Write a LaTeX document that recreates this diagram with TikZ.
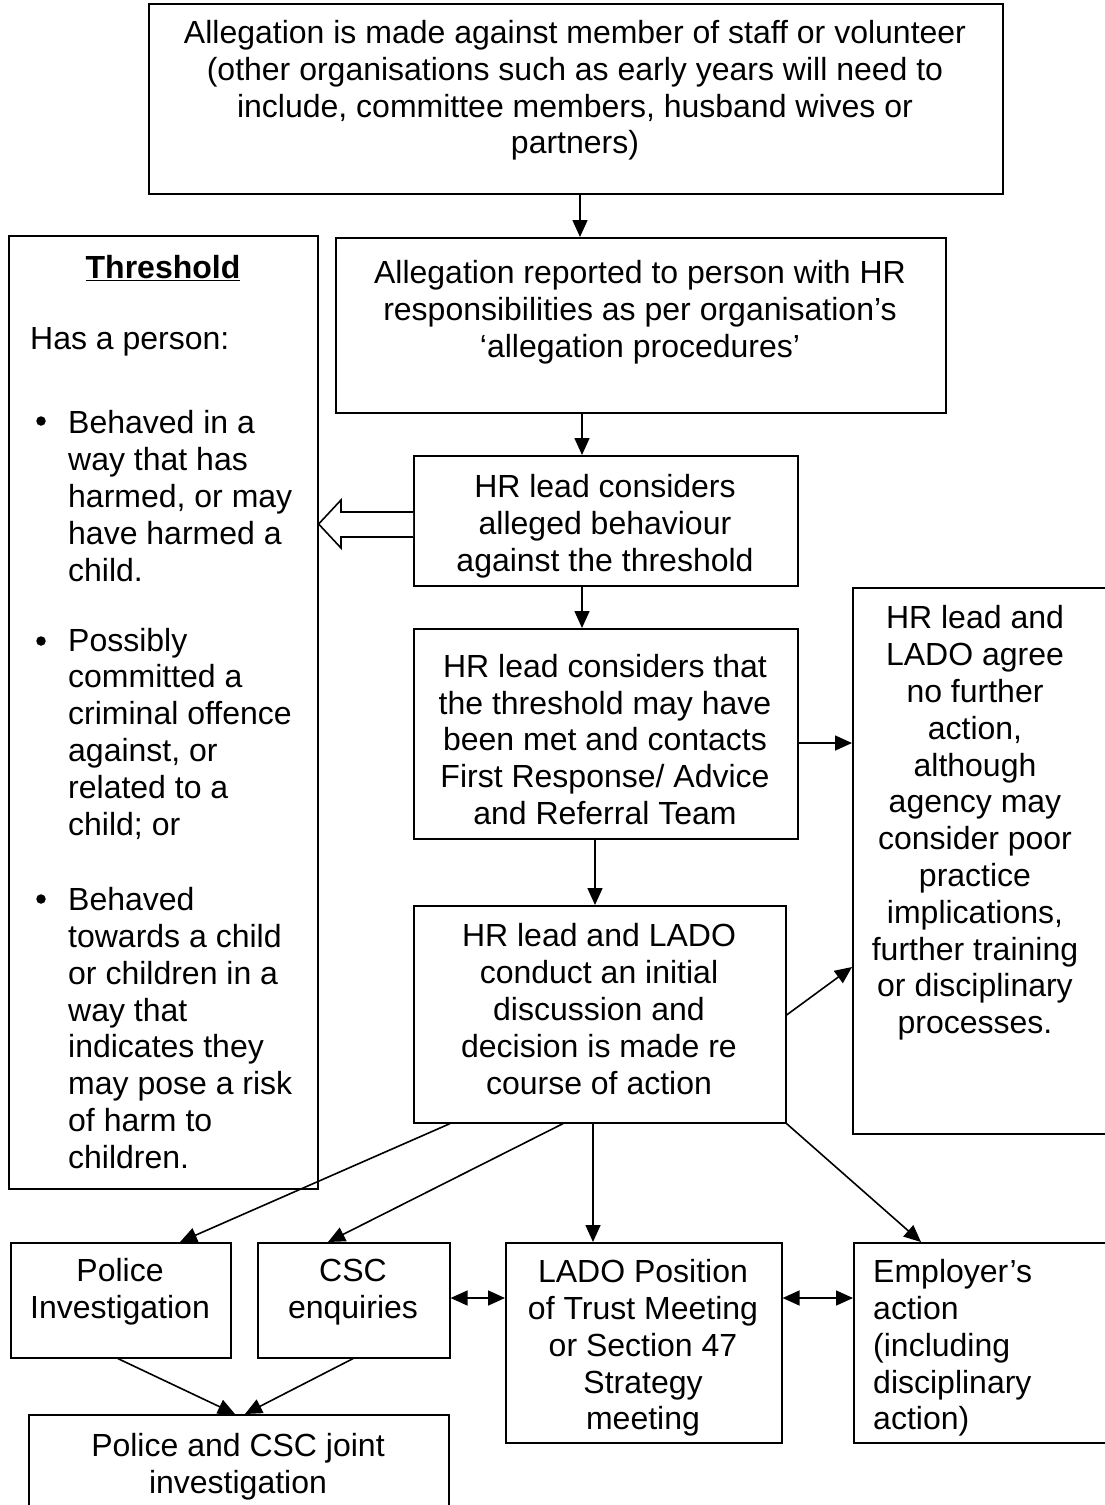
\documentclass[tikz,border=0pt]{standalone}
\usepackage{fontspec}
\setmainfont{Liberation Sans}
\usetikzlibrary{arrows.meta,calc}
\begin{document}
\begin{tikzpicture}[x=1pt,y=-1pt,
  box/.style={draw, line width=1.6pt, anchor=north west, inner sep=0pt},
  txt/.style={align=center, inner sep=0pt, font=\fontsize{32}{36.8}\selectfont},
  ltxt/.style={align=left, inner sep=0pt, anchor=west, font=\fontsize{32}{36.8}\selectfont},
  arr/.style={line width=1.6pt, -{Triangle[length=17pt,width=15pt]}},
  darr/.style={line width=1.6pt, {Triangle[length=17pt,width=15pt]}-{Triangle[length=17pt,width=15pt]}},
  ln/.style={line width=1.6pt},
  dot/.style={circle, fill, inner sep=0pt, minimum size=9.5pt}
]
\useasboundingbox (0,0) rectangle (1105,1505);
\clip (0,0) rectangle (1105,1505);

% boxes
\node[box, minimum width=854pt, minimum height=190pt] (top) at (148,3) {};
\node[box, minimum width=610pt, minimum height=175pt] (hr) at (335,237) {};
\node[box, minimum width=384pt, minimum height=130pt] (cons) at (413,455) {};
\node[box, minimum width=384pt, minimum height=210pt] (thr) at (413,628) {};
\node[box, minimum width=372pt, minimum height=217pt] (disc) at (413,905) {};
\node[box, minimum width=270pt, minimum height=546pt] (rgt) at (852,587) {};
\node[box, minimum width=309pt, minimum height=953pt] (thresh) at (8,235) {};
\node[box, minimum width=220pt, minimum height=115pt] (pol) at (10,1242) {};
\node[box, minimum width=192pt, minimum height=115pt] (csc) at (257,1242) {};
\node[box, minimum width=276pt, minimum height=200pt] (lado) at (505,1242) {};
\node[box, minimum width=270pt, minimum height=200pt] (emp) at (853,1242) {};
\node[box, minimum width=420pt, minimum height=110pt] (joint) at (28,1414) {};

% texts
\node[txt] (ttop) at (575,90.5) {Allegation is made against member of staff or volunteer\\(other organisations such as early years will need to\\include, committee members, husband wives or\\partners)};
\node[txt] (thr1) at (640,312) {Allegation reported to person with HR\\responsibilities as per organisation’s\\‘allegation procedures’};
\node[txt] (tcons) at (605,526) {HR lead considers\\alleged behaviour\\against the threshold};
\node[txt] (tthr) at (605,739.5) {HR lead considers that\\the threshold may have\\been met and contacts\\First Response/ Advice\\and Referral Team};
\node[txt] (tdisc) at (599,1009) {HR lead and LADO\\conduct an initial\\discussion and\\decision is made re\\course of action};
\node[txt] (trgt) at (975,823) {HR lead and\\LADO agree\\no further\\action,\\although\\agency may\\consider poor\\practice\\implications,\\further training\\or disciplinary\\processes.};
\node[txt] (tpol) at (120,1292) {Police\\Investigation};
\node[txt] (tcsc) at (353,1292) {CSC\\enquiries};
\node[txt] (tlado) at (643,1348) {LADO Position\\of Trust Meeting\\or Section 47\\Strategy\\meeting};
\node[ltxt] (temp) at (873,1348) {Employer’s\\action\\(including\\disciplinary\\action)};
\node[txt] (tjoint) at (238,1467) {Police and CSC joint\\investigation};

\node[txt] (tth) at (163,268) {\textbf{\underline{Threshold}}};
\node[ltxt] (thas) at (30,342) {Has a person:};
\node[dot] (b1) at (41,421) {};
\node[dot] (b2) at (41,641) {};
\node[dot] (b3) at (41,899) {};
\node[ltxt] (tb1) at (68,496) {Behaved in a\\way that has\\harmed, or may\\have harmed a\\child.};
\node[ltxt] (tb2) at (68,733.5) {Possibly\\committed a\\criminal offence\\against, or\\related to a\\child; or};
\node[ltxt] (tb3) at (68,1028) {Behaved\\towards a child\\or children in a\\way that\\indicates they\\may pose a risk\\of harm to\\children.};

% connectors
\draw[arr] ($(top.south west)+(432,0)$) -- ($(hr.north west)+(245,0)$);
\draw[arr] ($(hr.south west)+(247,0)$) -- ($(cons.north west)+(169,0)$);
\draw[arr] ($(cons.south west)+(169,0)$) -- ($(thr.north west)+(169,0)$);
\draw[arr] ($(thr.south west)+(182,0)$) -- ($(disc.north west)+(182,0)$);
\draw[arr] ($(thr.north east)+(0,115)$) -- ($(rgt.north west)+(0,156)$);
\draw[arr] ($(disc.north east)+(0,110)$) -- ($(rgt.north west)+(0,380)$);
\draw[arr] ($(disc.south west)+(37,0)$) -- ($(pol.north west)+(170,0)$);
\draw[arr] ($(disc.south west)+(150,0)$) -- ($(csc.north west)+(71,0)$);
\draw[arr] ($(disc.south west)+(180,0)$) -- ($(lado.north west)+(88,0)$);
\draw[arr] (disc.south east) -- ($(emp.north west)+(68,0)$);
\draw[darr] ($(csc.north east)+(0,56)$) -- ($(lado.north west)+(0,56)$);
\draw[darr] ($(lado.north east)+(0,56)$) -- ($(emp.north west)+(0,56)$);
\draw[arr] ($(pol.south west)+(108,0)$) -- ($(joint.north west)+(207,0)$);
\draw[arr] ($(csc.south west)+(96,0)$) -- ($(joint.north west)+(217,0)$);

% hollow arrow to threshold box
\draw[ln, fill=white, line join=miter] ($(cons.north west)+(0,57)$) -- ($(cons.north west)+(-72,57)$) -- ($(cons.north west)+(-72,45)$) -- ($(thresh.north east)+(0,289)$) -- ($(cons.north west)+(-72,93)$) -- ($(cons.north west)+(-72,82)$) -- ($(cons.north west)+(0,82)$);
\end{tikzpicture}
\end{document}
